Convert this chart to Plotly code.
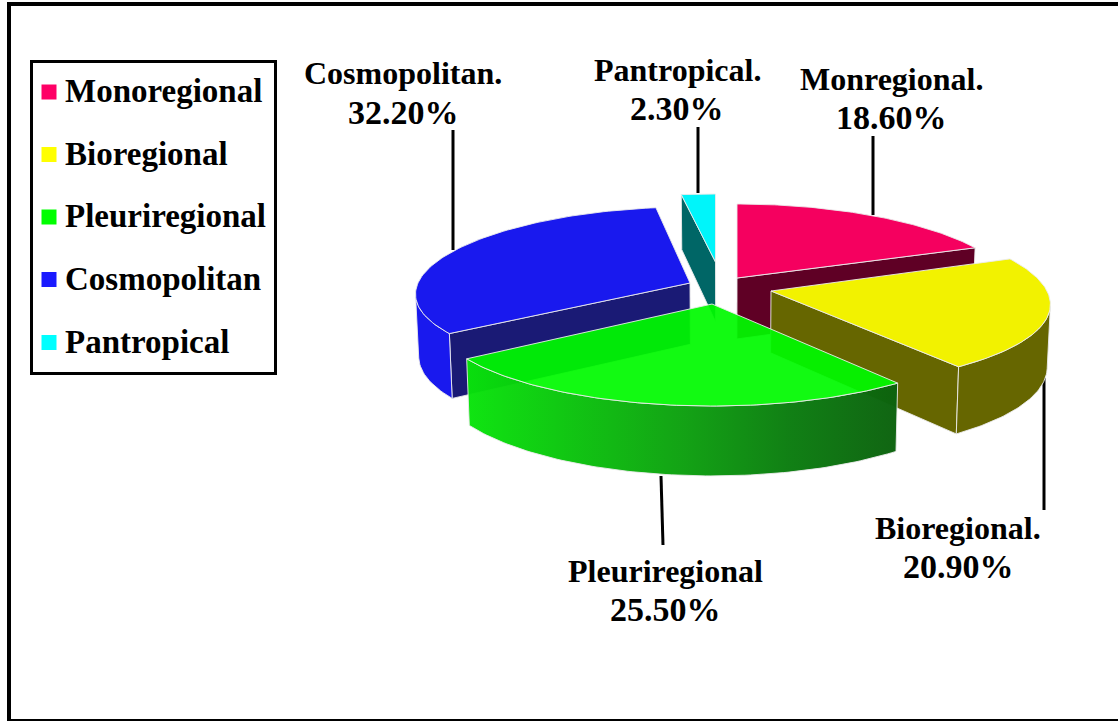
import numpy as np
import plotly.graph_objects as go

# ---- data ----
CATEGORIES = ["Monoregional", "Bioregional", "Pleuriregional", "Cosmopolitan", "Pantropical"]
VALUES = [18.6, 20.9, 25.5, 32.2, 2.3]
CALLOUTS = ["Monregional.", "Bioregional.", "Pleuriregional", "Cosmopolitan.", "Pantropical."]

# ---- styles ----
TOP = ["#f5005f", "#f2f200", "rgba(0,250,0,0.93)", "#1919ee", "#00f5fa"]
FACE = ["#5f0025", "#666600", None, "#1a1a75", "#006666"]
WALL = ["#5f0025", "#666600", None, "#1919ee", "#006666"]
LEGEND_COL = ["#ff0066", "#ffff00", "#00ff00", "#1a1aff", "#00ffff"]
SERIF = "Liberation Serif"
EDGE = "rgba(235,235,235,0.9)"

# ---- layout of the projected pie ----
APEX = [(737, 278), (771, 291), (712, 304), (690, 283), (715.5, 262)]
# per-slice perspective: horizontal radius a - b*cos, vertical radius c - d*cos
RIM = [(272, 36, 81, 7), (276, 44, 87, 10), (276, 40, 88, 14), (272, 37, 84, 8), (276, 40, 81, 13)]
DRAW_ORDER = [4, 0, 3, 1, 2]
LABEL_POS = [(891, 79, 117), (958, 528, 566), (665, 571, 609), (403, 73, 112), (677, 70, 108)]
LEADERS = [((873, 136), (873, 215)), ((1044, 378), (1044, 510)), ((661, 476), (663, 545)),
           ((453, 130), (453, 250)), ((698, 127), (698, 193))]
LEGEND_Y = [92, 154.5, 217, 279.5, 342.5]


def rim(i, theta):
    ax, ay = APEX[i]
    a, b, c_, d = RIM[i]
    c, s = np.cos(theta), np.sin(theta)
    return ax + s * (a - b * c), ay - c * (c_ - d * c)


def drop(x, y):
    return x + (730 - x) * 0.01, y + 55 + (y - 193) * 0.07


def polygon(fig, x, y, fill=None, gradient=None):
    kw = dict(fillgradient=gradient) if gradient else dict(fillcolor=fill)
    fig.add_trace(go.Scatter(x=list(x), y=list(y), mode="lines", fill="toself",
                             line=dict(color=EDGE, width=1), hoverinfo="skip",
                             showlegend=False, **kw))


fig = go.Figure()

for (p, q) in LEADERS:
    fig.add_trace(go.Scatter(x=[p[0], q[0]], y=[p[1], q[1]], mode="lines",
                             line=dict(color="black", width=3), hoverinfo="skip", showlegend=False))

edges = np.concatenate([[0], np.cumsum(VALUES)]) / sum(VALUES) * 2 * np.pi
for i in DRAW_ORDER:
    ax, ay = APEX[i]
    t0, t1 = edges[i], edges[i + 1]
    th = np.linspace(t0, t1, 90)
    # radial faces seen from the viewer
    for t, visible in ((t0, np.sin(t0) < -1e-6), (t1, np.sin(t1) > 1e-6)):
        if visible and FACE[i]:
            ex, ey = rim(i, t)
            bx0, by0 = drop(ax, ay)
            bx1, by1 = drop(ex, ey)
            polygon(fig, [ax, ex, bx1, bx0, ax], [ay, ey, by1, by0, ay], FACE[i])
    # outer wall, from the silhouette point forward
    front = th[np.cos(th) < -RIM[i][1] / RIM[i][0]]
    if len(front) > 1:
        ux, uy = rim(i, front)
        lx, ly = drop(ux, uy)
        xs = np.concatenate([ux, lx[::-1], ux[:1]])
        ys = np.concatenate([uy, ly[::-1], uy[:1]])
        if WALL[i]:
            polygon(fig, xs, ys, WALL[i])
        else:
            polygon(fig, xs, ys, gradient=dict(
                type="horizontal",
                colorscale=[[0, "rgba(8,228,10,0.97)"], [0.5, "rgba(12,160,14,0.97)"],
                            [0.75, "rgba(12,125,16,0.98)"], [1, "rgba(12,98,14,0.98)"]]))
    # top face
    tx, ty = rim(i, th)
    polygon(fig, np.concatenate([[ax], tx, [ax]]), np.concatenate([[ay], ty, [ay]]), TOP[i])

# legend box, swatches and names
fig.add_shape(type="rect", x0=31.5, y0=61.5, x1=275.5, y1=373.5,
              line=dict(color="black", width=3), fillcolor="white", layer="below")
fig.add_trace(go.Scatter(x=[49] * len(CATEGORIES), y=LEGEND_Y, mode="markers",
                         marker=dict(symbol="square", size=15, color=LEGEND_COL),
                         hoverinfo="skip", showlegend=False))
fig.add_trace(go.Scatter(x=[65] * len(CATEGORIES), y=[v + 2 for v in LEGEND_Y], mode="text",
                         text=[f"<b>{c}</b>" for c in CATEGORIES], textposition="middle right",
                         textfont=dict(family=SERIF, size=33, color="black"),
                         hoverinfo="skip", showlegend=False))

# callouts
for i, (lx, ly1, ly2) in enumerate(LABEL_POS):
    fig.add_annotation(x=lx, y=ly1, text=f"<b>{CALLOUTS[i]}</b>", showarrow=False,
                       font=dict(family=SERIF, size=32, color="black"))
    fig.add_annotation(x=lx, y=ly2, text=f"<b>{VALUES[i]:.2f}%</b>", showarrow=False,
                       font=dict(family=SERIF, size=34, color="black"))

# outer frame
for x0, y0, x1, y1 in [(7, 2, 11, 721), (7, 2, 1118, 6), (7, 719, 1118, 721)]:
    fig.add_shape(type="rect", x0=x0, y0=y0, x1=x1, y1=y1, fillcolor="black", line_width=0)

fig.update_layout(
    width=1118, height=721, margin=dict(l=0, r=0, t=0, b=0),
    paper_bgcolor="white", plot_bgcolor="white", showlegend=False,
    xaxis=dict(range=[0, 1118], visible=False, fixedrange=True),
    yaxis=dict(range=[721, 0], visible=False, fixedrange=True),
    font=dict(family=SERIF, color="black"),
)
fig.write_html("out.html", config={"displayModeBar": False},
               post_script="document.body.style.margin='0';")
